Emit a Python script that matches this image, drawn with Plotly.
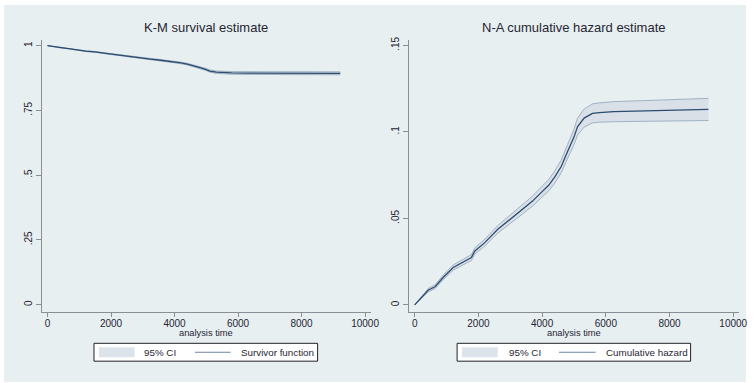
import plotly.graph_objects as go

# ---- data -------------------------------------------------------------
time = [0, 200, 430, 640, 900, 1210, 1500, 1780, 1890, 2200, 2610, 2900, 3240, 3500,
        3700, 4000, 4200, 4400, 4600, 4800, 5000, 5110, 5320, 5580, 5800, 6250, 7190,
        8000, 8600, 9220]

survival = [1.0, 0.9960, 0.9914, 0.9896, 0.9841, 0.9786, 0.9758, 0.9730, 0.9693, 0.9646,
            0.9572, 0.9531, 0.9482, 0.9446, 0.9418, 0.9366, 0.9333, 0.9287, 0.9231, 0.9151,
            0.9076, 0.9021, 0.8976, 0.8952, 0.8948, 0.8943, 0.8939, 0.8935, 0.8932, 0.8932]
survival_lo = [1.0, 0.9954, 0.9904, 0.9885, 0.9828, 0.9771, 0.9742, 0.9713, 0.9676, 0.9627,
               0.9551, 0.9508, 0.9457, 0.9420, 0.9391, 0.9337, 0.9302, 0.9255, 0.9197, 0.9114,
               0.9035, 0.8977, 0.8929, 0.8903, 0.8898, 0.8891, 0.8885, 0.8880, 0.8876, 0.8875]
survival_hi = [1.0, 0.9966, 0.9924, 0.9907, 0.9854, 0.9801, 0.9774, 0.9747, 0.9710, 0.9665,
               0.9593, 0.9554, 0.9507, 0.9472, 0.9445, 0.9395, 0.9364, 0.9319, 0.9265, 0.9188,
               0.9117, 0.9065, 0.9023, 0.9001, 0.8998, 0.8995, 0.8993, 0.8990, 0.8988, 0.8989]

hazard = [0, 0.0040, 0.0086, 0.0105, 0.0160, 0.0216, 0.0245, 0.0274, 0.0312, 0.0360,
          0.0437, 0.0480, 0.0532, 0.0570, 0.0600, 0.0655, 0.0690, 0.0740, 0.0800, 0.0887,
          0.0970, 0.1030, 0.1080, 0.1107, 0.1112, 0.1117, 0.1122, 0.1126, 0.1130, 0.1130]
hazard_lo = [0, 0.0034, 0.0076, 0.0094, 0.0147, 0.0201, 0.0229, 0.0257, 0.0294, 0.0340,
             0.0415, 0.0456, 0.0506, 0.0542, 0.0571, 0.0624, 0.0657, 0.0705, 0.0763, 0.0847,
             0.0925, 0.0981, 0.1028, 0.1052, 0.1056, 0.1059, 0.1062, 0.1064, 0.1067, 0.1066]
hazard_hi = [0, 0.0046, 0.0096, 0.0116, 0.0173, 0.0231, 0.0261, 0.0291, 0.0330, 0.0380,
             0.0459, 0.0504, 0.0558, 0.0598, 0.0629, 0.0686, 0.0723, 0.0775, 0.0837, 0.0927,
             0.1015, 0.1079, 0.1132, 0.1162, 0.1168, 0.1175, 0.1182, 0.1188, 0.1193, 0.1194]

x_ticks = [0, 2000, 4000, 6000, 8000, 10000]
x_tick_text = ["0", "2000", "4000", "6000", "8000", "10000"]
km_ticks = [0, 0.25, 0.5, 0.75, 1]
km_tick_text = ["0", ".25", ".5", ".75", "1"]
na_ticks = [0, 0.05, 0.1, 0.15]
na_tick_text = ["0", ".05", ".1", ".15"]

panel_titles = ["K-M survival estimate", "N-A cumulative hazard estimate"]
line_labels = ["Survivor function", "Cumulative hazard"]
band_label = "95% CI"
x_title = "analysis time"

# ---- styling ----------------------------------------------------------
W, H = 754, 383
FONT = "Liberation Sans, Arial, sans-serif"
BG = "#e8eff1"
LINE = "#2b4c70"
KEY_LINE = "#6d86a2"
BAND_FILL = "#d9e0e8"
KEY_FILL = "#dde3ea"
BAND_EDGE = "#8fa3b8"
TEXT = "#1f2633"
AXIS = "#8a8f94"


def px(x):
    return x / W


def py(y):
    return 1 - y / H


fig = go.Figure()


def add_panel(xa, ya, lo, mid, hi, line_name):
    # shaded confidence band
    fig.add_trace(go.Scatter(x=time, y=lo, mode="lines", line=dict(width=0),
                             xaxis=xa, yaxis=ya, showlegend=False, hoverinfo="skip"))
    fig.add_trace(go.Scatter(x=time, y=hi, mode="lines", line=dict(width=0),
                             fill="tonexty", fillcolor=BAND_FILL, name=band_label,
                             xaxis=xa, yaxis=ya, showlegend=False))
    # band outlines
    for edge in (lo, hi):
        fig.add_trace(go.Scatter(x=time, y=edge, mode="lines",
                                 line=dict(color=BAND_EDGE, width=0.8),
                                 xaxis=xa, yaxis=ya, showlegend=False, hoverinfo="skip"))
    fig.add_trace(go.Scatter(x=time, y=mid, mode="lines", name=line_name,
                             line=dict(color=LINE, width=1.3),
                             xaxis=xa, yaxis=ya, showlegend=False))


add_panel("x", "y", survival_lo, survival, survival_hi, line_labels[0])
add_panel("x2", "y2", hazard_lo, hazard, hazard_hi, line_labels[1])

ydom = [py(311), py(37)]

xaxis_common = dict(
    tickmode="array", tickvals=x_ticks, ticktext=x_tick_text,
    showline=True, linecolor=AXIS, linewidth=1,
    ticks="outside", ticklen=4, tickcolor=AXIS, tickwidth=1,
    ticklabelstandoff=-2,
    showgrid=False, zeroline=False, fixedrange=True,
    tickfont=dict(family=FONT, size=10, color=TEXT),
)
yaxis_common = dict(
    tickmode="array", showline=True, linecolor=AXIS, linewidth=1,
    ticks="outside", ticklen=5, tickcolor=AXIS, tickwidth=1,
    showgrid=True, gridcolor="#e6eef1", gridwidth=1, zeroline=False,
    tickangle=-90, fixedrange=True, domain=ydom,
    tickfont=dict(family=FONT, size=10, color=TEXT),
)

fig.update_layout(
    width=W, height=H,
    margin=dict(l=0, r=0, t=0, b=0),
    paper_bgcolor="white",
    plot_bgcolor="white",
    font=dict(family=FONT, size=10, color=TEXT),
    showlegend=False,
    xaxis=dict(xaxis_common, domain=[px(42), px(375)], range=[-187, 10187], anchor="y"),
    yaxis=dict(yaxis_common, tickvals=km_ticks, ticktext=km_tick_text,
               range=[-0.0268, 1.023], anchor="x"),
    xaxis2=dict(xaxis_common, domain=[px(413), px(747)], range=[-190, 10183], anchor="y2"),
    yaxis2=dict(yaxis_common, tickvals=na_ticks, ticktext=na_tick_text,
                range=[-0.00384, 0.1533], anchor="x2"),
)

# graph-region background
fig.add_shape(type="rect", xref="paper", yref="paper", layer="below",
              x0=px(4), x1=1, y0=py(382), y1=py(2), fillcolor=BG, line=dict(width=0))


def paper_rect(x0, x1, y0, y1, **kw):
    fig.add_shape(type="rect", xref="paper", yref="paper",
                  x0=px(x0), x1=px(x1), y0=py(y1), y1=py(y0), **kw)


def paper_text(text, x, y, size, anchor="center"):
    fig.add_annotation(text=text, xref="paper", yref="paper", x=px(x), y=py(y),
                       xanchor=anchor, yanchor="middle", showarrow=False,
                       font=dict(family=FONT, size=size, color=TEXT))


# per-panel titles, axis titles and keys
# key layout: box left/right, fill swatch, CI text, line swatch, series text
keys = [
    dict(box=(95, 321), fill=(100, 136), ci_x=144, line=(197, 233), lab_x=242),
    dict(box=(462, 698), fill=(467, 503), ci_x=512, line=(565, 602), lab_x=610),
]
for cx, title, label, k in zip((208, 580), panel_titles, line_labels, keys):
    paper_text(title, cx, 25, 13)
    paper_text(x_title, cx, 333, 9.3)

    paper_rect(k["box"][0], k["box"][1], 343, 361, fillcolor="white",
               line=dict(color="#222222", width=1))
    paper_rect(k["fill"][0], k["fill"][1], 347, 357, fillcolor=KEY_FILL,
               line=dict(width=0))
    paper_text(band_label, k["ci_x"], 352, 9.8, anchor="left")
    fig.add_shape(type="line", xref="paper", yref="paper",
                  x0=px(k["line"][0]), x1=px(k["line"][1]), y0=py(352), y1=py(352),
                  line=dict(color=KEY_LINE, width=1.2))
    paper_text(label, k["lab_x"], 352, 9.8, anchor="left")

fig.write_html("out.html")
